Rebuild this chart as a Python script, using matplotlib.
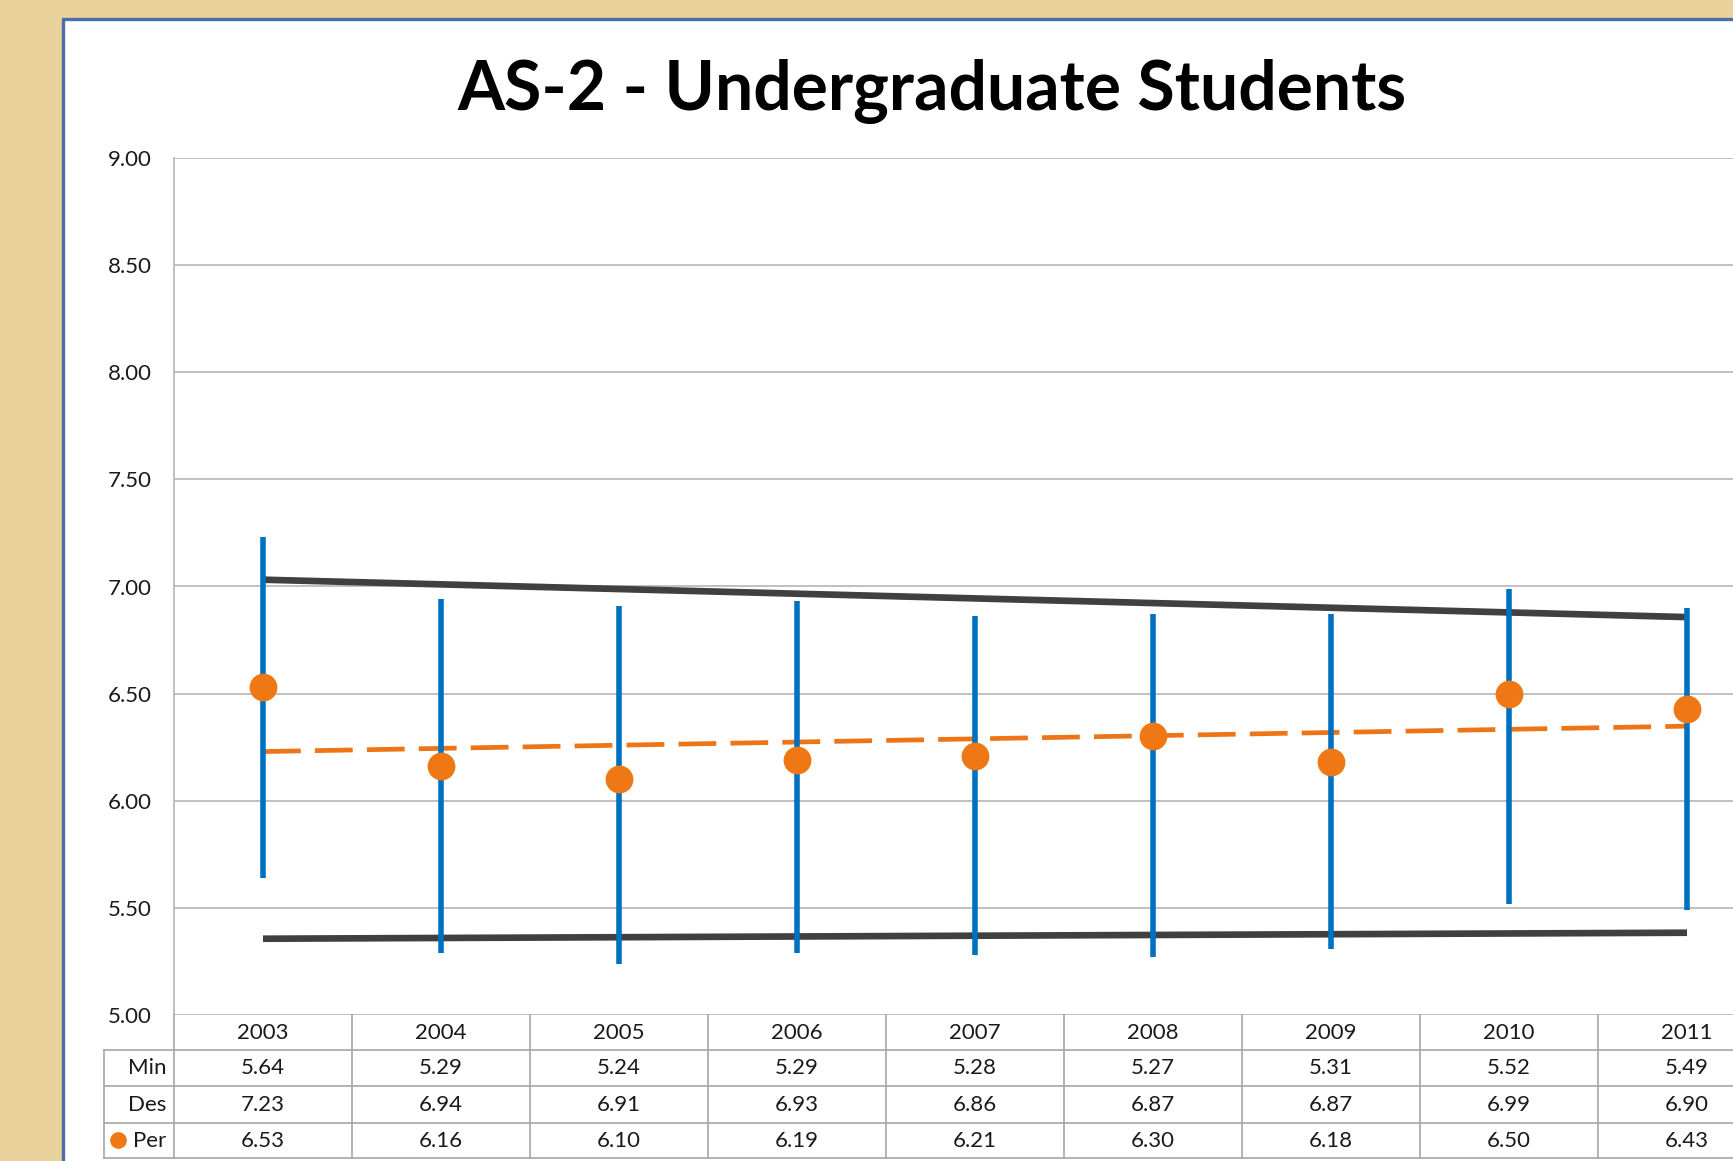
import matplotlib
matplotlib.use("Agg")
import matplotlib.pyplot as plt
import matplotlib.transforms as mtransforms
from matplotlib.patches import Rectangle
from matplotlib.lines import Line2D
import numpy as np

# chart data
years = ['2003', '2004', '2005', '2006', '2007', '2008', '2009', '2010', '2011']
min_vals = [5.64, 5.29, 5.24, 5.29, 5.28, 5.27, 5.31, 5.52, 5.49]
des_vals = [7.23, 6.94, 6.91, 6.93, 6.86, 6.87, 6.87, 6.99, 6.90]
per_vals = [6.53, 6.16, 6.10, 6.19, 6.21, 6.30, 6.18, 6.50, 6.43]
row_names = ['Min', 'Des', 'Per']
y_ticks = [5.0, 5.5, 6.0, 6.5, 7.0, 7.5, 8.0, 8.5, 9.0]

W, H = 1733, 1161
plt.rcParams['font.family'] = ['Lato', 'DejaVu Sans']

fig = plt.figure(figsize=(W / 100 + 1e-4, H / 100 + 1e-4), dpi=100)
fig.patch.set_facecolor('#E9D29B')


def fy(py):
    # pixel row (from top) -> figure fraction
    return 1 - py / H


def fx(px):
    return px / W


# white chart frame with blue border (on a background axes)
bg = fig.add_axes([0, 0, 1, 1], zorder=-5)
bg.set_axis_off()
bg.set_xlim(0, W)
bg.set_ylim(H, 0)
bg.add_patch(Rectangle((63, 19), 2000, 2000, facecolor='white',
                       edgecolor='#4A6FA5', linewidth=2.4))

# plot area
left_px, right_px, top_px, bot_px = 174, 1776, 158, 1015
ax = fig.add_axes([fx(left_px), fy(bot_px), fx(right_px - left_px), fy(top_px) - fy(bot_px)])
ax.set_facecolor('none')

x = np.arange(len(years))
ax.set_xlim(-0.5, len(years) - 0.5)
ax.set_ylim(5.0, 9.0)

grid_c = '#B5B5B5'
ax.set_yticks(y_ticks)
ax.set_yticklabels([f'{v:.2f}' for v in y_ticks])
ax.yaxis.grid(True, color=grid_c, linewidth=1.2)
ax.set_axisbelow(True)
ax.tick_params(axis='y', length=0, pad=16, labelsize=16, labelcolor='#1a1a1a')
ax.set_xticks([])
for s in ['top', 'right', 'bottom']:
    ax.spines[s].set_visible(False)
ax.spines['left'].set_color(grid_c)
ax.spines['left'].set_linewidth(1.2)

# min - desired range bars
ax.vlines(x, min_vals, des_vals, color='#0070C0', linewidth=4.0, zorder=3)

# linear trend lines
for vals in (des_vals, min_vals):
    c = np.polyfit(x, vals, 1)
    ax.plot(x, np.polyval(c, x), color='#404040', linewidth=4.8,
            solid_capstyle='butt', zorder=2)

c = np.polyfit(x, per_vals, 1)
ax.plot(x, np.polyval(c, x), color='#EE7418', linewidth=3.4,
        dashes=(8, 3), zorder=2)

ax.plot(x, per_vals, 'o', color='#F07814', markersize=20,
        markeredgewidth=0, zorder=4)

# data table under the plot
tbl_c = '#A6A6A6'
row_edges = [1015, 1050, 1086, 1123, 1158]
trans = mtransforms.blended_transform_factory(ax.transData, fig.transFigure)

for py in row_edges[1:]:
    fig.add_artist(Line2D([fx(104), fx(1800)], [fy(py), fy(py)],
                          transform=fig.transFigure, color=tbl_c, linewidth=1.2))
for xv in np.arange(len(years) + 1) - 0.5:
    fig.add_artist(Line2D([xv, xv], [fy(row_edges[0]), fy(row_edges[-1])],
                          transform=trans, color=tbl_c, linewidth=1.2))
fig.add_artist(Line2D([fx(104), fx(104)], [fy(row_edges[1]), fy(row_edges[-1])],
                      transform=fig.transFigure, color=tbl_c, linewidth=1.2))

row_centers = [(row_edges[i] + row_edges[i + 1]) / 2 for i in range(4)]
for i, yr in enumerate(years):
    fig.text(x[i], fy(row_centers[0]), yr, transform=trans,
             ha='center', va='center', fontsize=16, color='#1a1a1a')
    for r, vals in enumerate((min_vals, des_vals, per_vals)):
        fig.text(x[i], fy(row_centers[r + 1]), f'{vals[i]:.2f}', transform=trans,
                 ha='center', va='center', fontsize=16, color='#1a1a1a')

for r, name in enumerate(row_names):
    fig.text(fx(166), fy(row_centers[r + 1]), name, ha='right', va='center',
             fontsize=16, color='#1a1a1a')
fig.add_artist(Line2D([fx(118)], [fy(row_centers[3])], marker='o', markersize=12,
                      color='#F07814', markeredgewidth=0, transform=fig.transFigure))

# title, scaled to the reference width
title = fig.text(fx(932), fy(110), 'AS-2 - Undergraduate Students',
                 ha='center', va='baseline', fontsize=50, fontweight='bold',
                 color='black')
fig.canvas.draw()
w = title.get_window_extent().width
title.set_fontsize(50 * 952 / w)

fig.savefig('out.png', dpi=100)
